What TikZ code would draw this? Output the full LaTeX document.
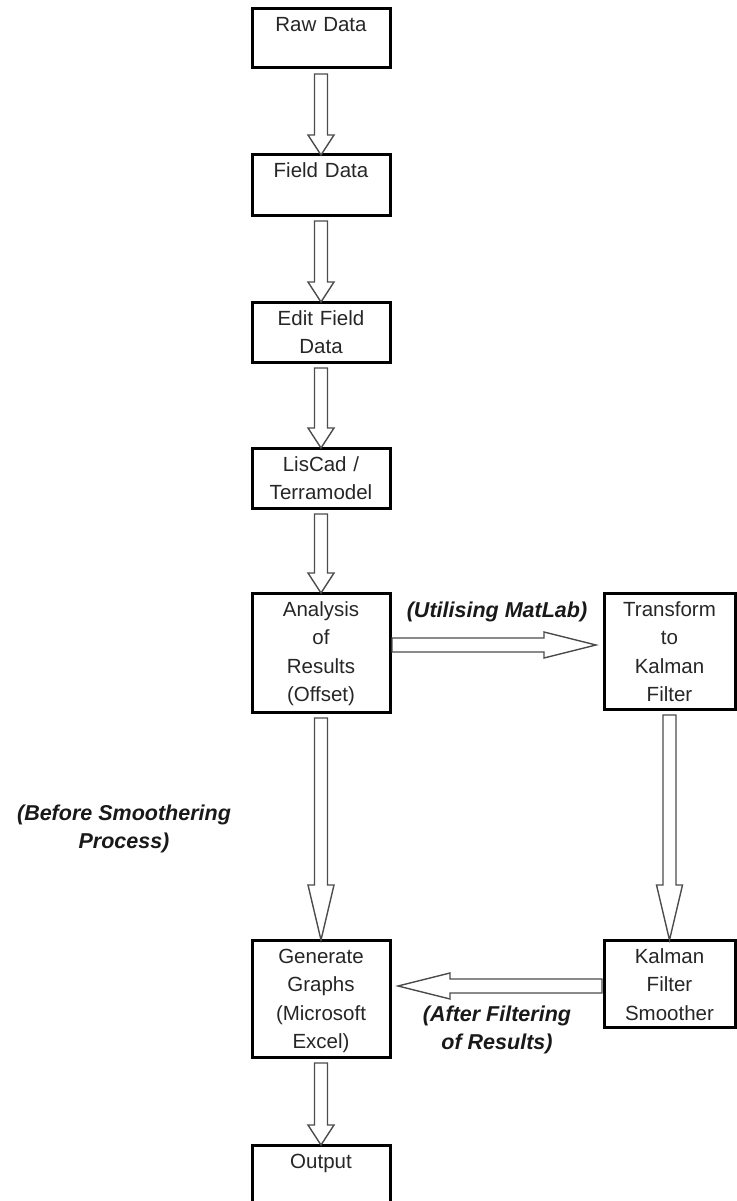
\documentclass[tikz,border=0pt]{standalone}
\usepackage{fontspec}
\setmainfont{Liberation Sans}
\usetikzlibrary{calc}

\tikzset{
  stagebox/.style={draw, line width=3pt, outer sep=0pt, inner xsep=2pt, inner ysep=0pt,
    text width=134pt, align=center, text height=23pt, anchor=north, text=black!85,
    font=\fontsize{20.5}{28.5}\selectfont},
  sidebox/.style={stagebox, text width=127pt},
  blockarr/.style={draw=black!70, line width=1.4pt, fill=white},
  remark/.style={align=center, text=black!90,
    font=\fontsize{21.5}{28}\selectfont\bfseries\itshape}
}

\newcommand{\flowdown}[3]{%
  \draw[blockarr] let \p1=(#1.south), \p2=(#2.north) in
    (\x1-6.5pt,\y1-6pt) -- (\x1+6.5pt,\y1-6pt) -- (\x1+6.5pt,\y2+#3)
    -- (\x1+13pt,\y2+#3) -- (\x1,\y2) -- (\x1-13pt,\y2+#3)
    -- (\x1-6.5pt,\y2+#3) -- cycle;}

\newcommand{\flowacross}[5]{%
  \draw[blockarr] let \p1=(#1), \p2=(#2) in
    ({\x1+(#5)*2pt},{\y1+(#3)+7pt}) -- ({\x2-(#5)*(8pt+#4)},{\y1+(#3)+7pt})
    -- ({\x2-(#5)*(8pt+#4)},{\y1+(#3)+13pt}) -- ({\x2-(#5)*8pt},{\y1+(#3)})
    -- ({\x2-(#5)*(8pt+#4)},{\y1+(#3)-13pt}) -- ({\x2-(#5)*(8pt+#4)},{\y1+(#3)-7pt})
    -- ({\x1+(#5)*2pt},{\y1+(#3)-7pt}) -- cycle;}

\begin{document}
\begin{tikzpicture}[x=1pt, y=1pt]
    \useasboundingbox (0,0) rectangle (736,-1201);

    \node[stagebox, text depth=36pt] (raw) at (321,-9) {Raw Data};
    \node[stagebox, text depth=37pt] (field) at (321,-155) {Field Data};
    \node[stagebox, text depth=37pt] (edit) at (321,-302) {Edit Field\\Data};
    \node[stagebox, text depth=37pt] (lisc) at (321,-448) {LisCad /\\Terramodel};
    \node[stagebox, text depth=96pt] (anal) at (321,-593) {Analysis\\of\\Results\\(Offset)};
    \node[sidebox, text depth=93pt] (trans) at (669.5,-593) {Transform\\to\\Kalman\\Filter};
    \node[stagebox, text depth=94pt] (gen) at (321,-940) {Generate\\Graphs\\(Microsoft\\Excel)};
    \node[sidebox, text depth=64pt] (kal) at (669.5,-940) {Kalman\\Filter\\Smoother};
    \node[stagebox, text depth=37pt] (out) at (321,-1145) {Output};

    \node[remark] (matlabnote) at (497,-612) {(Utilising MatLab)};
    \node[remark] (beforenote) at (124,-828.5) {(Before Smoothering\\Process)};
    \node[remark] (afternote) at (497,-1029.5) {(After Filtering\\of Results)};

    \flowdown{raw}{field}{20pt}
    \flowdown{field}{edit}{20pt}
    \flowdown{edit}{lisc}{20pt}
    \flowdown{lisc}{anal}{20pt}
    \flowdown{anal}{gen}{55pt}
    \flowdown{trans}{kal}{55pt}
    \flowdown{gen}{out}{20pt}
    \flowacross{anal.east}{trans.west}{7.5pt}{52pt}{1}
    \flowacross{kal.west}{gen.east}{-2.5pt}{52pt}{-1}
\end{tikzpicture}
\end{document}
